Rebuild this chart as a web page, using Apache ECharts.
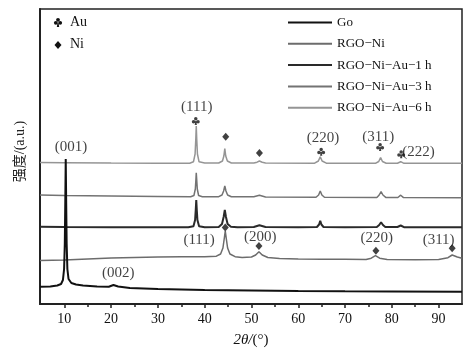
<!DOCTYPE html>
<html>
<head>
<meta charset="utf-8">
<script src="https://cdn.jsdelivr.net/npm/echarts@6/dist/echarts.min.js"></script>
<style>
  html, body { margin: 0; padding: 0; background: #fff; }
  #chart { width: 473px; height: 353px; }
</style>
</head>
<body>
<div id="chart"></div>
<script>
// 2θ (deg) vs intensity (a.u., stacked patterns)
var seriesNames = ['Go', 'RGO−Ni', 'RGO−Ni−Au−1 h', 'RGO−Ni−Au−3 h', 'RGO−Ni−Au−6 h']

var goData = [
  [4.8, 17.3], [7, 17.6], [8.5, 18.5], [9.3, 20], [9.7, 24], [9.95, 35], [10.1, 60], [10.2, 100], [10.3, 145],
  [10.4, 100], [10.5, 60], [10.65, 35], [10.9, 25], [11.5, 21], [12.5, 19.5], [14, 18.5], [17, 17.6],
  [19.5, 17.3], [20.5, 19], [21.5, 17.5], [24, 16], [30, 15], [40, 14], [50, 13.5], [60, 13],
  [70, 12.7], [80, 12.5], [95, 12.3]
]
var rgoNiData = [
  [4.8, 43.5], [10, 44], [15, 45], [20, 46], [25, 46.5], [30, 47], [35, 47.3], [40, 47.3], [42.5, 47.8],
  [43.4, 50], [43.9, 56], [44.2, 66], [44.4, 73], [44.6, 66], [44.9, 56], [45.4, 50], [46.5, 47.3],
  [48, 46.5], [50, 47], [50.9, 49], [51.6, 52.3], [52.3, 49], [53.5, 46.5], [56, 45.5], [60, 45],
  [65, 44.8], [70, 44.7], [74.5, 44.6], [75.6, 45.8], [76.5, 48.3], [77.4, 45.8], [79, 44.5],
  [85, 44.3], [90, 44.5], [92, 46.3], [92.9, 49], [94, 47], [95, 45.8]
]
var au1hData = [
  [4.8, 77.3], [10, 77], [20, 76.8], [30, 76.7], [36.5, 76.7], [37.6, 77.8], [37.95, 84], [38.1, 95], [38.2, 104],
  [38.3, 95], [38.45, 84], [38.8, 77.8], [40, 76.8], [43, 77], [43.7, 80], [44.05, 87], [44.3, 94],
  [44.55, 87], [44.9, 80], [45.6, 77.3], [47, 76.8], [50.5, 77], [51.7, 78.8], [53, 77], [60, 76.7],
  [64, 77], [64.45, 79.5], [64.7, 83.3], [64.95, 79.5], [65.4, 77], [70, 76.7], [76.8, 77], [77.3, 79],
  [77.7, 81.7], [78.1, 79], [78.6, 77], [81.2, 77], [81.9, 78.5], [82.6, 76.8], [88, 76.7], [95, 76.7]
]
var au3hData = [
  [4.8, 109], [10, 108.5], [20, 108], [30, 107.5], [37, 107.3], [37.7, 108.5], [38, 115], [38.12, 124], [38.2, 131.3],
  [38.3, 124], [38.42, 115], [38.7, 108.5], [39.5, 107.3], [43, 107.3], [43.7, 109], [44.05, 113], [44.3, 118],
  [44.55, 113], [44.9, 109], [45.7, 107.3], [50.5, 107.2], [51.7, 108.8], [53, 107], [63.8, 106.8],
  [64.35, 109], [64.7, 113], [65.05, 109], [65.6, 106.8], [76.8, 106.6], [77.3, 109], [77.7, 112.3],
  [78.1, 109], [78.7, 106.6], [81.3, 106.5], [81.9, 108.8], [82.5, 106.4], [95, 106.3]
]
var au6hData = [
  [4.8, 141.5], [10, 141.3], [20, 141], [30, 140.8], [36.8, 140.8], [37.6, 142.2], [37.95, 150], [38.1, 165],
  [38.2, 178], [38.3, 165], [38.45, 150], [38.8, 142.2], [40, 141], [43, 141], [43.8, 143], [44.1, 148],
  [44.3, 155.5], [44.5, 148], [44.85, 143], [45.7, 141], [50.5, 141], [51.2, 141.8], [51.7, 143],
  [52.3, 141.8], [53, 141], [63.5, 140.8], [64.3, 143], [64.7, 147.3], [65.1, 143], [66, 140.8],
  [76.5, 140.7], [77.2, 142.5], [77.6, 146.3], [78, 142.5], [78.8, 140.8], [81.2, 140.8], [81.9, 142.3],
  [82.6, 140.7], [95, 140.7]
]

var majorTicks = [10, 20, 30, 40, 50, 60, 70, 80, 90]
var minorTicks = [15, 25, 35, 45, 55, 65, 75, 85]

// phase markers: [2θ, y]
var auMarks = [[38.1, 183], [64.9, 152.3], [77.5, 157], [82.0, 149.7]]
var niMarks = [[44.5, 167.3], [51.7, 151], [44.4, 76.5], [51.6, 58], [76.6, 53.3], [92.9, 55.7]]
// reflection labels: [2θ, y, text]
var hklLabels = [
  [11.4, 157.3, '(001)'], [21.5, 30.7, '(002)'],
  [38.3, 197, '(111)'], [65.3, 165.7, '(220)'], [77.1, 166.7, '(311)'], [85.7, 152.3, '(222)'],
  [38.8, 64, '(111)'], [51.9, 67.3, '(200)'], [76.8, 65.7, '(220)'], [90.0, 64, '(311)']
]

var clubPath = 'path://M50,0 A22,22 0 1 1 49.9,0 Z M22,38 A22,22 0 1 1 21.9,38 Z M78,38 A22,22 0 1 1 77.9,38 Z M44,50 L56,50 L64,100 L36,100 Z'
var serif = "'Liberation Serif', 'Times New Roman', serif"

var chart = echarts.init(document.getElementById('chart'))

function lineSeries(name, data, color, width, z) {
  return {
    name: name,
    type: 'line',
    data: data,
    symbol: 'none',
    z: z,
    lineStyle: { color: color, width: width },
    itemStyle: { color: color }
  }
}

var option = {
  animation: false,
  grid: {
    left: 40, right: 11, top: 9, bottom: 49,
    show: true, borderColor: '#222', borderWidth: 1.5
  },
  legend: {
    orient: 'vertical',
    left: 283, top: 11,
    icon: 'rect',
    itemWidth: 44, itemHeight: 2, itemGap: 8.3,
    data: seriesNames,
    textStyle: { fontFamily: serif, fontSize: 13, color: '#111' }
  },
  xAxis: [{
    type: 'value',
    min: 4.8, max: 95,
    name: '{i|2θ/}(°)',
    nameLocation: 'middle',
    nameGap: 29,
    nameTextStyle: {
      fontFamily: serif, fontSize: 15, color: '#111',
      rich: { i: { fontFamily: serif, fontSize: 15, fontStyle: 'italic', color: '#111' } }
    },
    axisLine: { lineStyle: { color: '#222', width: 2 } },
    axisTick: { customValues: majorTicks, length: 4, lineStyle: { color: '#222', width: 1.5 } },
    axisLabel: { customValues: majorTicks, margin: 8, fontFamily: serif, fontSize: 14, color: '#111' },
    splitLine: { show: false }
  }, {
    type: 'value',
    min: 4.8, max: 95,
    position: 'bottom',
    axisLine: { show: false },
    axisTick: { customValues: minorTicks, length: 3, lineStyle: { color: '#222', width: 1.5 } },
    axisLabel: { show: false },
    splitLine: { show: false }
  }],
  yAxis: {
    type: 'value',
    min: 0, max: 295,
    name: '强度/(a.u.)',
    nameLocation: 'middle',
    nameGap: 13,
    nameTextStyle: { fontFamily: "'Liberation Serif', 'Noto Sans CJK SC'", fontSize: 14, color: '#222', padding: [0, 0, 0, 10] },
    axisLine: { show: true, lineStyle: { color: '#222', width: 2 } },
    axisTick: { show: false },
    axisLabel: { show: false },
    splitLine: { show: false }
  },
  graphic: [
    { type: 'circle', shape: { cx: 58, cy: 19.8, r: 1.9 }, style: { fill: '#111' } },
    { type: 'circle', shape: { cx: 55.8, cy: 22.8, r: 1.9 }, style: { fill: '#111' } },
    { type: 'circle', shape: { cx: 60.2, cy: 22.8, r: 1.9 }, style: { fill: '#111' } },
    { type: 'polygon', shape: { points: [[57.5, 23], [58.5, 23], [59.2, 27], [56.8, 27]] }, style: { fill: '#111' } },
    { type: 'text', left: 70, top: 15, style: { text: 'Au', font: '14px ' + serif, fill: '#111' } },
    { type: 'polygon', shape: { points: [[58, 41], [61.5, 45], [58, 49], [54.5, 45]] }, style: { fill: '#111' } },
    { type: 'text', left: 70, top: 37, style: { text: 'Ni', font: '14px ' + serif, fill: '#111' } }
  ],
  series: [
    lineSeries(seriesNames[0], goData, '#111111', 2, 6),
    lineSeries(seriesNames[1], rgoNiData, '#6c6c6c', 1.5, 2),
    lineSeries(seriesNames[2], au1hData, '#2a2a2a', 2, 3),
    lineSeries(seriesNames[3], au3hData, '#737373', 1.5, 4),
    lineSeries(seriesNames[4], au6hData, '#959595', 1.5, 5),
    {
      type: 'scatter',
      data: auMarks,
      symbol: clubPath,
      symbolSize: 8,
      itemStyle: { color: '#111' },
      z: 7
    },
    {
      type: 'scatter',
      data: niMarks,
      symbol: 'diamond',
      symbolSize: [7, 8],
      itemStyle: { color: '#111' },
      z: 7
    },
    {
      type: 'scatter',
      data: hklLabels.map(function (d) { return { value: [d[0], d[1]], name: d[2] } }),
      symbolSize: 0,
      z: 7,
      label: {
        show: true,
        position: 'inside',
        formatter: function (p) { return p.name },
        fontFamily: serif, fontSize: 15, color: '#111'
      }
    }
  ]
}

chart.setOption(option)
</script>
</body>
</html>
